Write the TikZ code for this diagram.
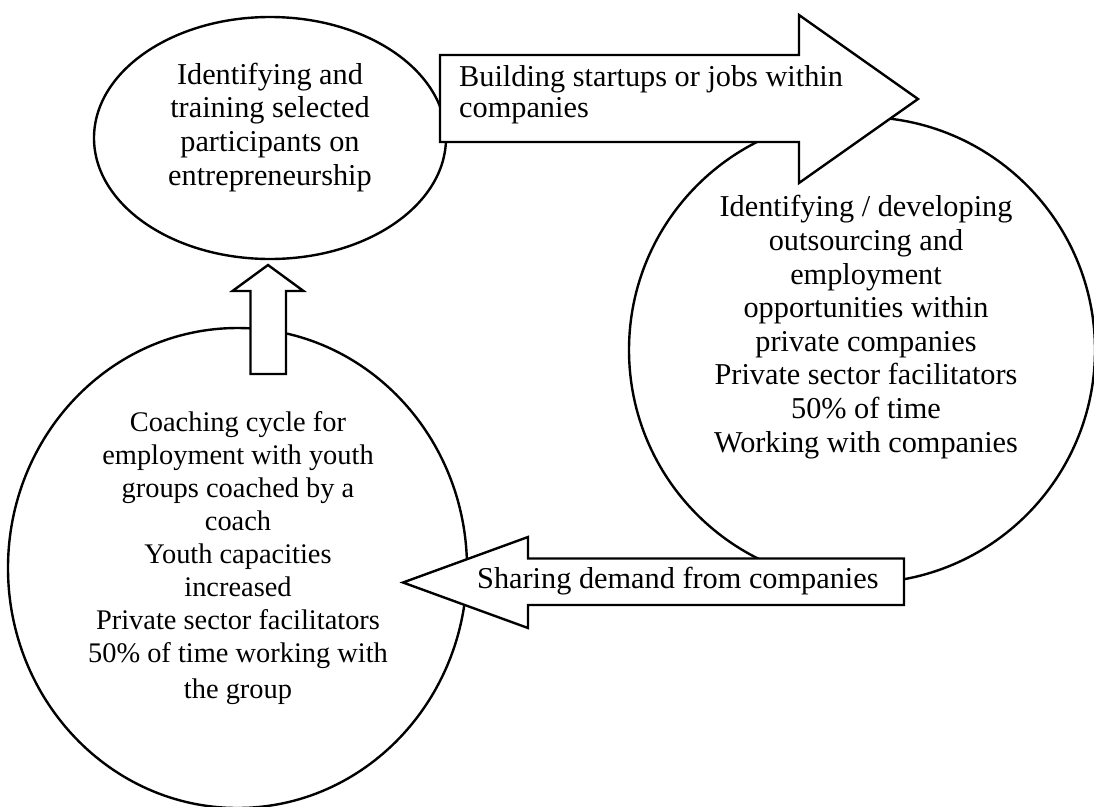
\documentclass[tikz,border=0pt]{standalone}
\usepackage{fontspec}
\setmainfont{Liberation Serif}
\usetikzlibrary{shapes.geometric}
\begin{document}
\begin{tikzpicture}[x=1pt,y=-1pt,
  outline/.style={draw=black,line width=2.4pt,fill=white},
  bubble/.style={outline,ellipse,inner sep=0pt,outer sep=0pt},
  blockarrow/.style={outline,line join=miter},
  bigtext/.style={font=\fontsize{30.3}{33.6}\selectfont,inner sep=0pt,align=center},
  smalltext/.style={font=\fontsize{28.4}{33.1}\selectfont,inner sep=0pt,align=center},
  arrowtext/.style={font=\fontsize{30.3}{31}\selectfont,inner sep=0pt,align=left}]
\useasboundingbox (0,0) rectangle (1094,806);
% circles
\node[bubble,minimum width=352pt,minimum height=242pt] (train) at (270,138) {};
\node[bubble,minimum width=466pt,minimum height=466pt] (outsrc) at (862,350) {};
\node[bubble,minimum width=459pt,minimum height=480pt] (coach) at (237.5,568) {};
% block arrows
\coordinate (rA) at (440,55);
\draw[blockarrow] (rA) -- (799,55) -- (799,15) -- (918,99) -- (799,183) -- (799,142) -- (440,142) -- cycle;
\coordinate (uA) at (268,265);
\draw[blockarrow] (250.5,374) -- (250.5,291) -- (232.5,291) -- (uA) -- (303.5,291) -- (286,291) -- (286,374) -- cycle;
\coordinate (lA) at (403,582.5);
\draw[blockarrow] (904,558.5) -- (528,558.5) -- (528,537) -- (lA) -- (528,628) -- (528,605) -- (904,605) -- cycle;
% texts (anchor=base is the baseline of the last line)
\node[bigtext,anchor=base] (t1) at (270,185) {Identifying and\\training selected\\participants on\\entrepreneurship};
\node[arrowtext,anchor=base west] (t2) at (459,117) {Building startups or jobs within\\companies};
\node[bigtext,anchor=base] (t3) at (866,452) {Identifying / developing\\outsourcing and\\employment\\opportunities within\\private companies\\Private sector facilitators\\50\% of time\\Working with companies};
\node[smalltext,anchor=base] (t4) at (238,698) {Coaching cycle for\\employment with youth\\groups coached by a\\coach\\Youth capacities\\increased\\Private sector facilitators\\50\% of time working with\\[2pt]the group};
\node[arrowtext,anchor=base west] (t5) at (477,588) {Sharing demand from companies};
\end{tikzpicture}
\end{document}
